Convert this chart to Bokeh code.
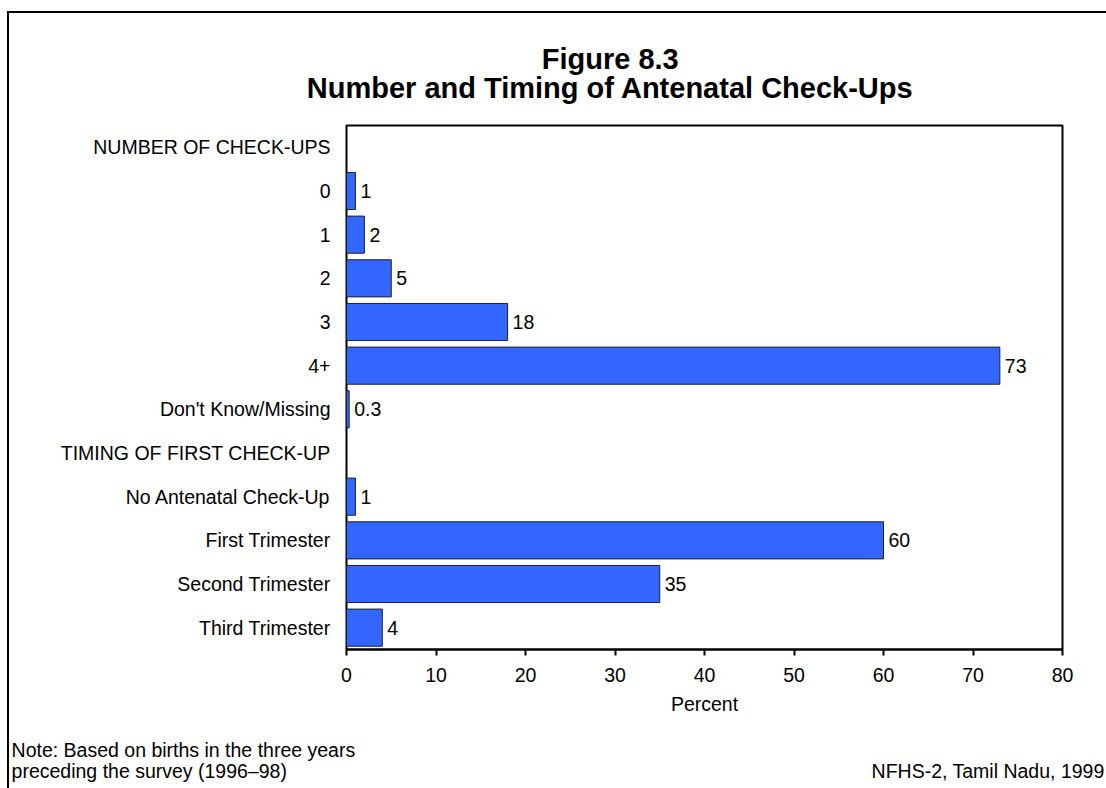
from bokeh.plotting import figure
from bokeh.models import Range1d, FactorRange, FixedTicker, Label, ColumnDataSource
from bokeh.core.properties import value
from bokeh.embed import file_html
from bokeh.resources import INLINE

# Row labels, top to bottom (section headers carry no bar)
rows = [
    "NUMBER OF CHECK-UPS", "0", "1", "2", "3", "4+", "Don't Know/Missing",
    "TIMING OF FIRST CHECK-UP", "No Antenatal Check-Up", "First Trimester",
    "Second Trimester", "Third Trimester",
]
bar_categories = [
    "0", "1", "2", "3", "4+", "Don't Know/Missing",
    "No Antenatal Check-Up", "First Trimester", "Second Trimester", "Third Trimester",
]
percents = [1, 2, 5, 18, 73, 0.3, 1, 60, 35, 4]
percent_labels = ["1", "2", "5", "18", "73", "0.3", "1", "60", "35", "4"]
x_ticks = [0, 10, 20, 30, 40, 50, 60, 70, 80]

FONT = "Liberation Sans"
FS = "19.5px"

# page geometry; the canvas sits inside a framed panel offset by (OX, OY)
PAGE_W, PAGE_H = 1106, 788
OX, OY = 9, 13
W, H = PAGE_W - OX, PAGE_H - OY
FL, FR, FT, FB = 346 - OX, 1060 - OX, 125 - OY, 647 - OY  # frame edges on canvas
XMAX = 80.0

p = figure(
    width=W, height=H,
    x_range=Range1d(0, XMAX),
    y_range=FactorRange(factors=list(reversed(rows))),
    output_backend="svg", toolbar_location=None,
    min_border_left=FL, min_border_right=W - FR,
    min_border_top=FT, min_border_bottom=H - FB,
)
# panel frame: black rule along the top and left edges
p.styles = {
    "margin-left": f"{OX - 2}px",
    "margin-top": f"{OY - 2}px",
    "border-left": "2px solid black",
    "border-top": "2px solid black",
    "box-sizing": "content-box",
}
p.xgrid.visible = False
p.ygrid.visible = False
p.outline_line_color = "black"
p.outline_line_width = 2
p.background_fill_color = "white"
p.border_fill_color = "white"

# page pixel -> data helpers for annotations placed around the frame
def dx(px):
    return (px - OX - FL) / (FR - FL) * XMAX

def dy(py):
    return (FB - (py - OY)) / (FB - FT) * len(rows)

src = ColumnDataSource(dict(cat=bar_categories, val=percents, lab=percent_labels))
p.hbar(y="cat", left=0, right="val", height=0.85, source=src,
       fill_color="#3366FF", line_color="#202020", line_width=1)
p.text(x="val", y="cat", text="lab", source=src, x_offset=5,
       text_baseline="middle", text_align="left",
       text_font=value(FONT), text_font_size=value(FS), text_color="black")

# x axis
xa = p.xaxis[0]
xa.ticker = FixedTicker(ticks=x_ticks)
xa.minor_tick_line_color = None
xa.major_tick_in = 0
xa.major_tick_out = 6
xa.major_tick_line_width = 2
xa.axis_line_width = 2
xa.major_label_standoff = 12
xa.major_label_text_font = FONT
xa.major_label_text_font_size = FS
xa.major_label_text_color = "black"
xa.axis_label = "Percent"
xa.axis_label_text_font = FONT
xa.axis_label_text_font_size = FS
xa.axis_label_text_font_style = "normal"
xa.axis_label_text_color = "black"
xa.axis_label_standoff = 8

# y axis
ya = p.yaxis[0]
ya.axis_line_color = None
ya.major_tick_line_color = None
ya.minor_tick_line_color = None
ya.major_tick_in = 0
ya.major_tick_out = 0
ya.major_label_standoff = 16
ya.major_label_text_font = FONT
ya.major_label_text_font_size = FS
ya.major_label_text_color = "black"

# Text outside the frame lives in side panels so it is not clipped.
def text_label(txt, px, py, align, size=FS, bold=False):
    return Label(x=dx(px), y=dy(py), text=txt, text_align=align,
                 text_baseline="alphabetic", text_font=FONT, text_font_size=size,
                 text_font_style="bold" if bold else "normal", text_color="black")

p.add_layout(text_label("Number and Timing of Antenatal Check-Ups", 609, 88, "center",
                        "29px", True), "above")
p.add_layout(text_label("Figure 8.3", 609, 59, "center", "29px", True), "above")
p.add_layout(text_label("NFHS-2, Tamil Nadu, 1999", 1102, 768, "right"), "above")
p.add_layout(text_label("Note: Based on births in the three years", 12, 747, "left"), "below")
p.add_layout(text_label("preceding the survey (1996\u201398)", 12, 768, "left"), "below")

open("out.html", "w").write(file_html(p, INLINE))
